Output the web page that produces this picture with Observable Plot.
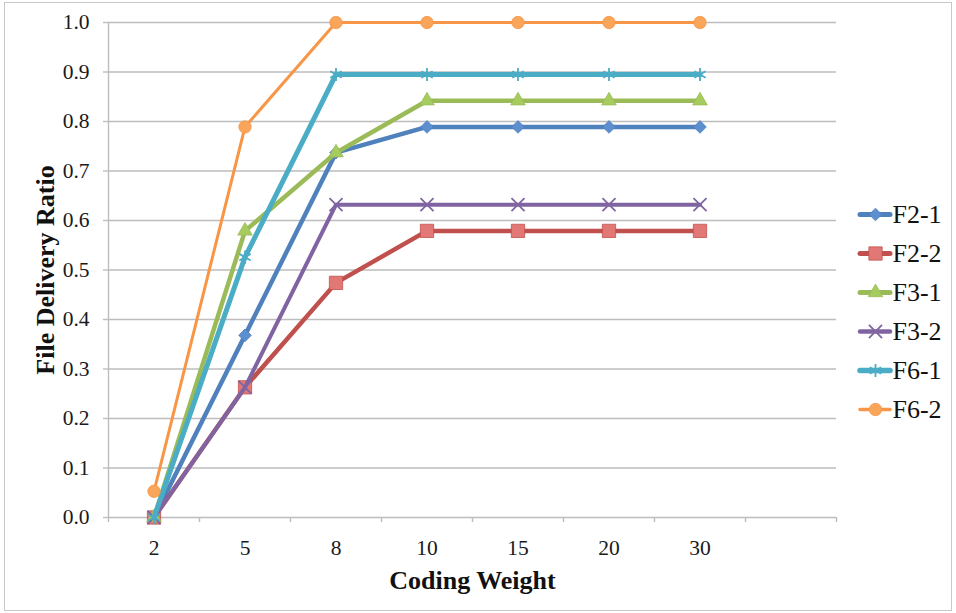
<!DOCTYPE html>
<html><head><meta charset="utf-8">
<script src="https://cdn.jsdelivr.net/npm/d3@7"></script>
<script src="https://cdn.jsdelivr.net/npm/@observablehq/plot@0.6"></script>
<style>
body{margin:0;background:#fff;}
#wrap{position:relative;width:956px;height:613px;overflow:hidden;}
#border{position:absolute;left:4px;top:2px;width:946px;height:607px;border:1px solid #c8c8c8;}
#chart{position:absolute;left:0;top:0;}
#legend{position:absolute;left:855px;top:190px;}
#wrap svg, #wrap svg text{font-family:'Liberation Serif','Times New Roman',serif !important;}
</style></head><body>
<div id="wrap"><div id="border"></div><div id="chart"></div><div id="legend"></div></div>
<script>
// Categories (x axis)
const weights = ["2", "5", "8", "10", "15", "20", "30"];
// Series values (File Delivery Ratio)
const F2_1 = [0, 0.368, 0.737, 0.789, 0.789, 0.789, 0.789];
const F2_2 = [0, 0.263, 0.474, 0.579, 0.579, 0.579, 0.579];
const F3_1 = [0, 0.579, 0.737, 0.842, 0.842, 0.842, 0.842];
const F3_2 = [0, 0.263, 0.632, 0.632, 0.632, 0.632, 0.632];
const F6_1 = [0, 0.526, 0.895, 0.895, 0.895, 0.895, 0.895];
const F6_2 = [0.053, 0.789, 1.0, 1.0, 1.0, 1.0, 1.0];
const seriesNames = ["F2-1", "F2-2", "F3-1", "F3-2", "F6-1", "F6-2"];
const seriesValues = [F2_1, F2_2, F3_1, F3_2, F6_1, F6_2];
// Styles
const colors = ["#4F81BD", "#C0504D", "#9BBB59", "#8064A2", "#4BACC6", "#F79646"];
const fills = ["#5B8FD0", "#E27876", "#A6CC5E", "none", "none", "#F9A55A"];
const symbols = ["diamond2", "square", "triangle", "times", "asterisk", "circle"];
const radii = [5.7, 7.5, 5.4, 6, 6.2, 6.2];
const widths = [4.5, 4.5, 4.5, 4, 5, 3];
const yTicks = d3.range(0, 11).map(d => d / 10);
const xTitle = "Coding Weight";
const yTitle = "File Delivery Ratio";

const nBands = weights.length + 1; // one empty slot at the right as in the reference
const data = seriesNames.map((name, s) =>
  seriesValues[s].map((v, i) => ({series: name, idx: i + 0.5, weight: weights[i], value: v}))
);

const font = "'Liberation Serif', 'Times New Roman', serif";
const gray = "#bdbdbd";
const isStroked = s => symbols[s] === "times" || symbols[s] === "asterisk";

const seriesMarks = data.flatMap((rows, s) => [
  Plot.line(rows, {x: "idx", y: "value", stroke: colors[s], strokeWidth: widths[s],
    strokeLinejoin: "round", strokeLinecap: "round"}),
  Plot.dot(rows, {x: "idx", y: "value", symbol: () => symbols[s], r: radii[s],
    fill: fills[s], stroke: colors[s], strokeWidth: isStroked(s) ? 1.8 : 0.8})
]);

const chart = Plot.plot({
  width: 956,
  height: 613,
  marginLeft: 108,
  marginRight: 120,
  marginTop: 22,
  marginBottom: 96,
  style: {fontFamily: font, color: "#1a1a1a", background: "transparent"},
  x: {type: "linear", domain: [0, nBands], axis: null},
  y: {domain: [0, 1], axis: null},
  symbol: {type: "identity"},
  marks: [
    Plot.gridY(yTicks, {stroke: gray, strokeOpacity: 1, strokeWidth: 1.4}),
    Plot.ruleX([0], {stroke: gray, strokeWidth: 1.4}),
    Plot.axisY(yTicks, {tickSize: 5, tickPadding: 14, tickFormat: d3.format(".1f"), fontSize: 21.5,
      stroke: gray, strokeWidth: 1.4, label: null}),
    Plot.axisX(d3.range(0, nBands + 1), {tickSize: 5, tickFormat: () => "", stroke: gray, strokeWidth: 1.4, label: null}),
    Plot.axisX(weights.map((w, i) => i + 0.5), {tickSize: 0, tickPadding: 22, fontSize: 21.5,
      tickFormat: d => weights[Math.round(d - 0.5)], label: null}),
    Plot.text([yTitle], {text: d => d, frameAnchor: "left", rotate: -90, dx: -63,
      textAnchor: "middle", lineAnchor: "middle",
      fontSize: 26, fontWeight: "bold", fill: "#111"}),
    Plot.text([xTitle], {text: d => d, frameAnchor: "bottom", dy: 63,
      textAnchor: "middle", lineAnchor: "middle",
      fontSize: 26, fontWeight: "bold", fill: "#111"}),
    ...seriesMarks
  ]
});
document.getElementById("chart").append(chart);

// Legend
const legendRows = seriesNames.map((name, s) => ({name, s}));
const legend = Plot.plot({
  width: 100,
  height: 240,
  margin: 0,
  style: {fontFamily: font, color: "#1a1a1a", background: "transparent"},
  x: {type: "identity", axis: null},
  y: {type: "point", domain: seriesNames, range: [22, 220], padding: 0, axis: null},
  symbol: {type: "identity"},
  marks: [
    Plot.ruleY(legendRows, {y: "name", x1: 5, x2: 35, stroke: d => colors[d.s], strokeWidth: d => widths[d.s] + 0.5, strokeLinecap: "round"}),
    ...legendRows.map(row => Plot.dot([row], {x: 20, y: "name", symbol: () => symbols[row.s], r: radii[row.s],
      fill: fills[row.s], stroke: colors[row.s], strokeWidth: isStroked(row.s) ? 1.8 : 0.8})),
    Plot.text(legendRows, {x: 37, y: "name", text: "name", textAnchor: "start", fontSize: 26, fill: "#111"})
  ]
});
document.getElementById("legend").append(legend);
</script>
</body></html>
